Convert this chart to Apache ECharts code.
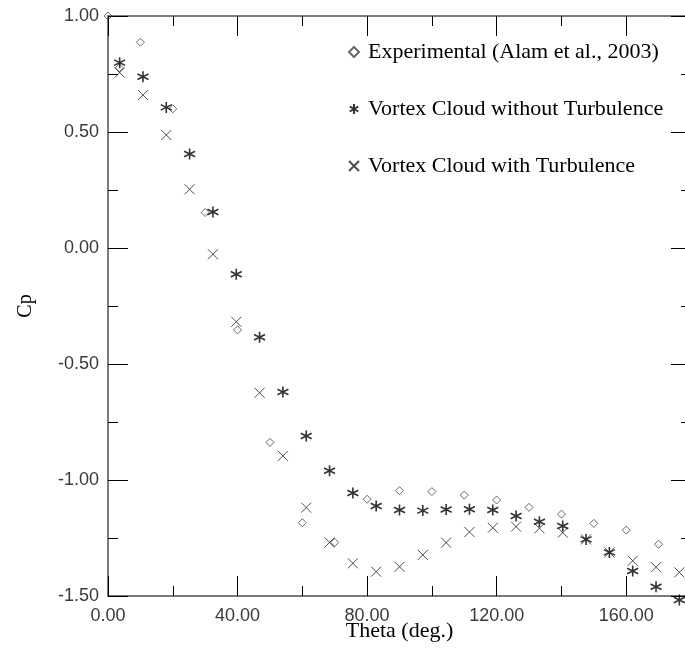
<!DOCTYPE html>
<html>
<head>
<meta charset="utf-8">
<script src="https://cdn.jsdelivr.net/npm/echarts@6/dist/echarts.min.js"></script>
<style>
  html, body { margin: 0; padding: 0; background: #fff; overflow: hidden; }
  #chart { width: 692px; height: 650px; }
</style>
</head>
<body>
<div id="chart"></div>
<script>
// Experimental (Alam et al., 2003)
var expTheta = [0, 3.5, 10, 20, 30, 40, 50, 60, 70, 80, 90, 100, 110, 120, 130, 140, 150, 160, 170];
var expCp = [1.00, 0.777, 0.887, 0.600, 0.153, -0.353, -0.838, -1.184, -1.269, -1.083, -1.046,
             -1.050, -1.065, -1.086, -1.118, -1.147, -1.187, -1.216, -1.277];

// vortex cloud panels
var simTheta = [3.6, 10.8, 18, 25.2, 32.4, 39.6, 46.8, 54, 61.2, 68.4, 75.6, 82.8, 90, 97.2,
                104.4, 111.6, 118.8, 126, 133.2, 140.4, 147.6, 154.8, 162, 169.2, 176.4];
var noTurbCp = [0.799, 0.738, 0.606, 0.405, 0.155, -0.113, -0.385, -0.621, -0.810, -0.960,
                -1.056, -1.112, -1.129, -1.132, -1.127, -1.126, -1.129, -1.155, -1.180, -1.198,
                -1.256, -1.312, -1.392, -1.460, -1.517];
var turbCp = [0.756, 0.659, 0.487, 0.253, -0.027, -0.318, -0.624, -0.896, -1.119, -1.269,
              -1.359, -1.395, -1.374, -1.323, -1.270, -1.224, -1.206, -1.201, -1.208, -1.227,
              -1.256, -1.312, -1.348, -1.376, -1.398];

var legendNames = ['Experimental (Alam et al., 2003)', 'Vortex Cloud without Turbulence', 'Vortex Cloud with Turbulence'];

var pair = function(xs, ys){
  var out = [];
  for (var i = 0; i < xs.length; i++) {
    out.push([xs[i], ys[i]]);
  }
  return out;
};

var starPath = 'path://M5,0L5,10M0.67,2.5L9.33,7.5M0.67,7.5L9.33,2.5';
var crossPath = 'path://M0,0L10,10M0,10L10,0';

var hidden = { show: false };

// long ticks + labels, short ticks as a second axis on each side
var axisLineOf = function(line){
  return { show: line, onZero: false, lineStyle: { color: '#7a7a7a', width: 2 } };
};
var xAxisDef = function(pos, interval, len, labels, line){
  return {
    type: 'value', position: pos, min: 0, max: 180, interval: interval,
    axisLine: axisLineOf(line),
    axisTick: { show: true, inside: true, length: len, lineStyle: { color: '#000', width: 1 } },
    axisLabel: labels ? {
      show: true, margin: 11, color: '#3a3a3a', fontSize: 18, fontFamily: 'Liberation Sans',
      showMaxLabel: false,
      formatter: function(v){ return v.toFixed(2); }
    } : hidden,
    splitLine: hidden
  };
};
var yAxisDef = function(pos, interval, len, labels, line){
  return {
    type: 'value', position: pos, min: -1.5, max: 1, interval: interval,
    axisLine: axisLineOf(line),
    axisTick: { show: true, inside: true, length: len, lineStyle: { color: '#000', width: 1 } },
    axisLabel: labels ? {
      show: true, margin: 9, color: '#3a3a3a', fontSize: 18, fontFamily: 'Liberation Sans',
      formatter: function(v){ return v.toFixed(2); }
    } : hidden,
    splitLine: hidden
  };
};

var myChart = echarts.init(document.getElementById('chart'));

var xMain = xAxisDef('bottom', 40, 20, true, true);
xMain.name = 'Theta (deg.)';
xMain.nameLocation = 'middle';
xMain.nameGap = 24;
xMain.nameMoveOverlap = false;
xMain.nameTextStyle = { fontFamily: 'Liberation Serif', fontSize: 22, color: '#000' };

var yMain = yAxisDef('left', 0.5, 20, true, true);
yMain.name = 'Cp';
yMain.nameLocation = 'middle';
yMain.nameGap = 72;
yMain.nameMoveOverlap = false;
yMain.nameTextStyle = { fontFamily: 'Liberation Serif', fontSize: 20, color: '#000' };

var option = {
  animation: false,
  backgroundColor: '#fff',
  grid: { left: 108, right: 1, top: 16, bottom: 54, containLabel: false, outerBoundsMode: 'none' },
  legend: {
    orient: 'vertical',
    left: 343,
    top: 36,
    itemWidth: 10,
    itemHeight: 10,
    itemGap: 35,
    data: legendNames,
    textStyle: { fontFamily: 'Liberation Serif', fontSize: 22, color: '#000', padding: [0, 0, 0, 4] }
  },
  xAxis: [
    xMain,
    xAxisDef('top', 40, 20, false, true),
    xAxisDef('bottom', 20, 10, false, false),
    xAxisDef('top', 20, 10, false, false)
  ],
  yAxis: [
    yMain,
    yAxisDef('right', 0.5, 20, false, true),
    yAxisDef('left', 0.25, 10, false, false),
    yAxisDef('right', 0.25, 10, false, false)
  ],
  series: [
    {
      name: legendNames[0],
      type: 'scatter',
      clip: false,
      symbol: 'diamond',
      symbolSize: 8,
      itemStyle: { color: 'transparent', borderColor: '#444', borderWidth: 1 },
      data: pair(expTheta, expCp)
    },
    {
      name: legendNames[1],
      type: 'scatter',
      clip: false,
      symbol: starPath,
      symbolSize: 11,
      itemStyle: { color: 'transparent', borderColor: '#000', borderWidth: 1.6 },
      data: pair(simTheta, noTurbCp)
    },
    {
      name: legendNames[2],
      type: 'scatter',
      clip: false,
      symbol: crossPath,
      symbolSize: 10,
      itemStyle: { color: 'transparent', borderColor: '#222', borderWidth: 1 },
      data: pair(simTheta, turbCp)
    }
  ]
};

myChart.setOption(option);
</script>
</body>
</html>
